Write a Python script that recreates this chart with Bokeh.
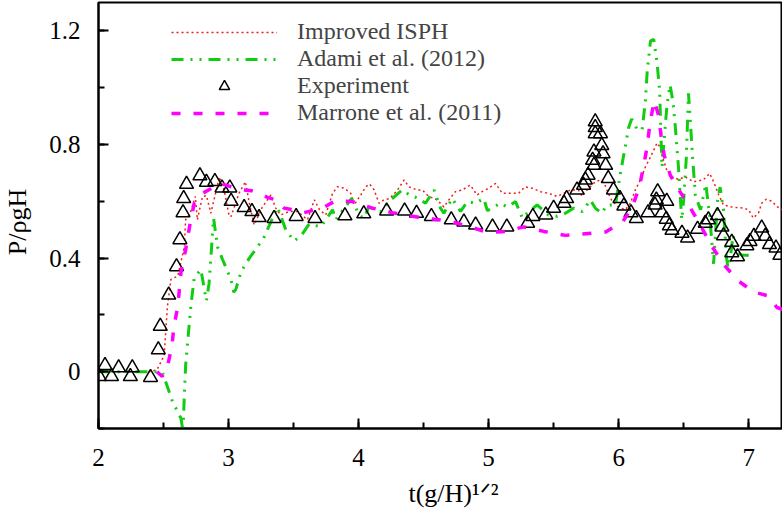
from bokeh.plotting import figure
from bokeh.models import (Legend, LegendItem, SingleIntervalTicker,
                          CustomJSTickFormatter, Range1d)
from bokeh.embed import file_html
from bokeh.resources import INLINE

# ---------------- data ----------------
isph_t = [2.00, 2.40, 2.45, 2.505, 2.53, 2.557, 2.61, 2.66, 2.67, 2.705, 2.745, 2.76,
          2.80, 2.83, 2.864, 2.93, 2.966, 3.005, 3.02, 3.08, 3.13, 3.16, 3.197, 3.26,
          3.325, 3.363, 3.40, 3.465, 3.53, 3.607, 3.66, 3.70, 3.747, 3.80, 3.837, 3.89,
          3.94, 3.965, 4.016, 4.055, 4.085, 4.12, 4.157, 4.195, 4.24, 4.30, 4.35, 4.387,
          4.45, 4.49, 4.54, 4.605, 4.656, 4.694, 4.745, 4.797, 4.86, 4.91, 4.95, 5.00,
          5.053, 5.105, 5.17, 5.23, 5.28, 5.335, 5.40, 5.46, 5.527, 5.578, 5.63, 5.69,
          5.72, 5.757, 5.82, 5.86, 5.89, 5.92, 5.95, 6.00, 6.05, 6.09, 6.128, 6.167,
          6.205, 6.245, 6.295, 6.32, 6.345, 6.37, 6.41, 6.46, 6.51, 6.575, 6.65, 6.70,
          6.73, 6.77, 6.806, 6.88, 6.96, 7.00, 7.035, 7.075, 7.10, 7.134, 7.18, 7.217, 7.26]
isph_p = [0.0, 0.0, 0.007, 0.057, 0.23, 0.325, 0.337, 0.44, 0.535, 0.558, 0.617, 0.535,
          0.617, 0.62, 0.558, 0.686, 0.64, 0.547, 0.547, 0.628, 0.669, 0.593, 0.517, 0.58,
          0.622, 0.576, 0.552, 0.564, 0.564, 0.535, 0.605, 0.57, 0.552, 0.628, 0.651, 0.646,
          0.628, 0.587, 0.622, 0.651, 0.661, 0.64, 0.593, 0.605, 0.61, 0.64, 0.675, 0.651,
          0.64, 0.64, 0.617, 0.605, 0.58, 0.605, 0.634, 0.64, 0.657, 0.622, 0.634, 0.646,
          0.663, 0.628, 0.628, 0.628, 0.651, 0.646, 0.634, 0.628, 0.617, 0.628, 0.64, 0.64,
          0.617, 0.64, 0.669, 0.675, 0.663, 0.628, 0.60, 0.58, 0.57, 0.593, 0.64, 0.675,
          0.72, 0.756, 0.805, 0.79, 0.745, 0.71, 0.686, 0.677, 0.686, 0.669, 0.675, 0.698,
          0.669, 0.622, 0.587, 0.579, 0.576, 0.57, 0.541, 0.558, 0.593, 0.607, 0.60, 0.581, 0.57]

adami_t = [2.00, 2.44, 2.49, 2.57, 2.634, 2.65, 2.66, 2.67, 2.69, 2.71, 2.736, 2.787,
           2.83, 2.85, 2.885, 2.915, 2.954, 3.018, 3.04, 3.056, 3.094, 3.16, 3.27, 3.376,
           3.44, 3.504, 3.56, 3.62, 3.71, 3.80, 3.824, 3.947, 4.003, 4.04, 4.08, 4.17,
           4.247, 4.336, 4.40, 4.464, 4.515, 4.58, 4.63, 4.656, 4.72, 4.784, 4.836, 4.90,
           4.963, 4.99, 5.09, 5.143, 5.207, 5.26, 5.31, 5.373, 5.46, 5.527, 5.59, 5.654,
           5.72, 5.783, 5.82, 5.87, 5.91, 5.975, 6.013, 6.05, 6.077, 6.10, 6.14, 6.18,
           6.205, 6.22, 6.245, 6.27, 6.295, 6.315, 6.333, 6.35, 6.372, 6.395, 6.418, 6.436,
           6.46, 6.485, 6.50, 6.52, 6.537, 6.55, 6.57, 6.59, 6.63, 6.67, 6.70, 6.73,
           6.76, 6.78, 6.806, 6.83, 6.845, 6.88, 6.91, 6.95, 7.00]
adami_p = [0.0, 0.0, 0.0, -0.106, -0.164, -0.21, -0.083, 0.022, 0.127, 0.23, 0.33, 0.36,
           0.25, 0.31, 0.54, 0.44, 0.395, 0.325, 0.28, 0.29, 0.35, 0.40, 0.47, 0.58,
           0.50, 0.46, 0.48, 0.52, 0.51, 0.57, 0.535, 0.61, 0.552, 0.54, 0.58, 0.564,
           0.605, 0.64, 0.62, 0.61, 0.593, 0.64, 0.576, 0.558, 0.61, 0.564, 0.599, 0.593,
           0.61, 0.567, 0.593, 0.58, 0.599, 0.54, 0.564, 0.587, 0.552, 0.547, 0.558, 0.576,
           0.564, 0.605, 0.576, 0.558, 0.587, 0.587, 0.698, 0.79, 0.86, 0.89, 0.855, 0.85,
           0.95, 1.06, 1.165, 1.17, 1.09, 0.99, 0.72, 0.82, 0.94, 1.01, 0.95, 0.86,
           0.72, 0.535, 0.605, 0.75, 0.98, 0.89, 0.745, 0.62, 0.57, 0.66, 0.55, 0.38,
           0.60, 0.65, 0.57, 0.40, 0.35, 0.48, 0.42, 0.41, 0.41]

exp_t = [2.006, 2.05, 2.10, 2.155, 2.245, 2.26, 2.40, 2.46, 2.475, 2.54, 2.60, 2.626,
         2.65, 2.655, 2.677, 2.78, 2.83, 2.895, 2.95, 3.01, 3.02, 3.12, 3.18, 3.235,
         3.35, 3.52, 3.665, 3.895, 4.04, 4.216, 4.354, 4.446, 4.56, 4.713, 4.81, 4.90,
         5.03, 5.14, 5.30, 5.34, 5.44, 5.50, 5.58, 5.60, 5.68, 5.73, 5.744, 5.765,
         5.80, 5.81, 5.81, 5.82, 5.82, 5.82, 5.86, 5.87, 5.88, 5.90, 5.92, 5.96,
         6.01, 6.04, 6.095, 6.136, 6.226, 6.28, 6.30, 6.29, 6.333, 6.366, 6.37, 6.39,
         6.41, 6.487, 6.53, 6.607, 6.666, 6.69, 6.76, 6.794, 6.806, 6.87, 6.87, 6.914,
         6.986, 7.01, 7.04, 7.10, 7.127, 7.16, 7.21, 7.24]
exp_p = [-0.017, 0.022, -0.017, 0.014, -0.017, 0.014, -0.02, 0.077, 0.16, 0.27, 0.37, 0.465,
         0.56, 0.61, 0.66, 0.69, 0.667, 0.67, 0.647, 0.647, 0.60, 0.578, 0.564, 0.543,
         0.54, 0.547, 0.54, 0.549, 0.556, 0.566, 0.566, 0.558, 0.547, 0.535, 0.527, 0.517,
         0.51, 0.51, 0.523, 0.547, 0.552, 0.576, 0.593, 0.61, 0.64, 0.657, 0.675, 0.692,
         0.745, 0.727, 0.774, 0.838, 0.86, 0.88, 0.838, 0.797, 0.768, 0.727, 0.68, 0.64,
         0.61, 0.584, 0.56, 0.54, 0.56, 0.587, 0.634, 0.605, 0.56, 0.537, 0.60, 0.514,
         0.498, 0.488, 0.471, 0.502, 0.523, 0.535, 0.55, 0.51, 0.479, 0.456, 0.419, 0.405,
         0.444, 0.459, 0.477, 0.506, 0.477, 0.448, 0.436, 0.41]

marrone_t = [2.45, 2.49, 2.53, 2.565, 2.58, 2.61, 2.634, 2.67, 2.705, 2.736, 2.775, 2.80,
             2.89, 2.94, 3.08, 3.18, 3.30, 3.363, 3.427, 3.504, 3.58, 3.72, 3.824, 3.95,
             4.106, 4.26, 4.413, 4.567, 4.707, 4.86, 4.99, 5.13, 5.27, 5.424, 5.59, 5.745,
             5.90, 6.034, 6.11, 6.16, 6.19, 6.22, 6.24, 6.274, 6.307, 6.326, 6.35, 6.397,
             6.47, 6.56, 6.64, 6.717, 6.806, 6.92, 7.037, 7.15, 7.217, 7.26]
marrone_p = [0.0, -0.017, 0.017, 0.092, 0.16, 0.23, 0.35, 0.43, 0.523, 0.593, 0.61, 0.628,
             0.651, 0.663, 0.642, 0.637, 0.614, 0.605, 0.576, 0.57, 0.56, 0.576, 0.602, 0.599,
             0.576, 0.56, 0.547, 0.538, 0.529, 0.51, 0.49, 0.494, 0.51, 0.494, 0.48, 0.486,
             0.492, 0.529, 0.587, 0.651, 0.72, 0.794, 0.873, 0.955, 0.902, 0.832, 0.762, 0.692,
             0.635, 0.57, 0.506, 0.442, 0.378, 0.32, 0.281, 0.267, 0.226, 0.22]

series_labels = ["Improved ISPH", "Adami et al. (2012)", "Experiment", "Marrone et al. (2011)"]
x_label = "\u2002\u2002t(g/H)\u00b9\u141f\u00b2"
y_label = "P/\u03c1gH\u2002"

FONT = "Liberation Serif"

# ---------------- figure ----------------
p = figure(width=782, height=519, output_backend="svg", toolbar_location=None,
           x_range=Range1d(2.0, 7.26), y_range=Range1d(-0.2, 1.3),
           min_border_left=98, min_border_right=0, min_border_top=2, min_border_bottom=91)
p.grid.visible = False
p.outline_line_color = "black"
p.outline_line_width = 2
p.background_fill_color = "white"
p.border_fill_color = "white"

r_isph = p.line(isph_t, isph_p, line_color="#ee1c1c", line_width=1.5, line_dash="2 3")
r_adami = p.line(adami_t, adami_p, line_color="#11cc11", line_width=3, line_dash="12 7 2 7 2 7")
r_exp = p.scatter(exp_t, exp_p, marker="triangle", size=14, fill_color=None,
                  line_color="black", line_width=1.5)
r_marr = p.line(marrone_t, marrone_p, line_color="#ff00ff", line_width=3.5, line_dash="9 13")

# axes
for ax in (p.xaxis[0], p.yaxis[0]):
    ax.axis_line_width = 2
    ax.axis_line_color = "black"
    ax.major_tick_line_width = 2
    ax.minor_tick_line_width = 2
    ax.major_tick_in = 10
    ax.major_tick_out = 0
    ax.minor_tick_in = 6
    ax.minor_tick_out = 0
    ax.major_label_text_font = FONT
    ax.major_label_text_font_size = "25px"
    ax.major_label_text_color = "black"
    ax.axis_label_text_font = FONT
    ax.axis_label_text_font_size = "26px"
    ax.axis_label_text_font_style = "normal"
    ax.axis_label_text_color = "black"

p.xaxis.ticker = SingleIntervalTicker(interval=1, num_minor_ticks=2)
p.yaxis.ticker = SingleIntervalTicker(interval=0.4, num_minor_ticks=2)
p.yaxis.formatter = CustomJSTickFormatter(
    code="return Math.abs(tick) < 1e-9 ? '0' : tick.toFixed(1);")
p.xaxis.major_label_standoff = 20
p.yaxis.major_label_standoff = 18

p.xaxis.axis_label = x_label
p.xaxis.axis_label_standoff = 10
p.yaxis.axis_label = y_label
p.yaxis.axis_label_standoff = 14

legend = Legend(items=[LegendItem(label=series_labels[0], renderers=[r_isph]),
                       LegendItem(label=series_labels[1], renderers=[r_adami]),
                       LegendItem(label=series_labels[2], renderers=[r_exp]),
                       LegendItem(label=series_labels[3], renderers=[r_marr])],
                location=(73, 302), glyph_width=106, glyph_height=26, label_height=26,
                label_standoff=20, spacing=0, padding=0, margin=0,
                border_line_color=None, background_fill_alpha=0,
                label_text_font=FONT, label_text_font_size="24px")
p.add_layout(legend, "center")

open("out.html", "w").write(file_html(p, INLINE))
